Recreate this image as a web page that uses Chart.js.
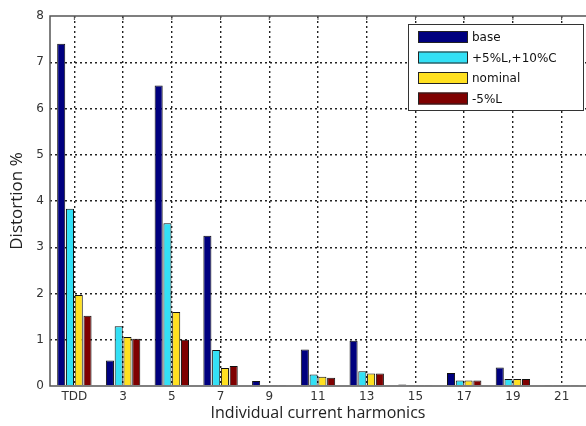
<!DOCTYPE html>
<html>
<head>
<meta charset="utf-8">
<script src="https://cdn.jsdelivr.net/npm/chart.js@4.4.0/dist/chart.umd.min.js"></script>
<style>
html,body{margin:0;padding:0;background:#fff;}
#wrap{width:586px;height:426px;position:relative;}
</style>
</head>
<body>
<div id="wrap"><canvas id="c" width="586" height="426"></canvas></div>
<script>
const categories = ["TDD","3","5","7","9","11","13","15","17","19","21"];
const seriesNames = ["base","+5%L,+10%C","nominal","-5%L"];
const baseVals    = [7.4, 0.55, 6.5, 3.25, 0.11, 0.79, 0.98, 0.03, 0.28, 0.40, 0.02];
const plusVals    = [3.83, 1.29, 3.52, 0.78, 0.02, 0.25, 0.32, 0.02, 0.12, 0.15, 0.02];
const nominalVals = [1.97, 1.06, 1.60, 0.39, 0.02, 0.20, 0.27, 0.02, 0.12, 0.15, 0.02];
const minusVals   = [1.52, 1.02, 1.00, 0.43, 0.02, 0.18, 0.27, 0.02, 0.12, 0.15, 0.02];
const yTicks = [0,1,2,3,4,5,6,7,8];
const colors = ["#00007f","#33e0f5","#ffe020","#7f0000"];

const frame = {
  id:'frame',
  afterDraw(chart){
    const {ctx, chartArea:a} = chart;
    ctx.save();
    ctx.strokeStyle = '#555';
    ctx.lineWidth = 1.5;
    ctx.beginPath();
    ctx.moveTo(a.right+2, a.top); ctx.lineTo(a.left, a.top);
    ctx.lineTo(a.left, a.bottom); ctx.lineTo(a.right+2, a.bottom);
    ctx.stroke();
    // small inward tick marks on top edge
    const xs = chart.scales.x;
    ctx.lineWidth = 1;
    ctx.beginPath();
    xs.ticks.forEach((t,i)=>{ const x = xs.getPixelForTick(i); ctx.moveTo(x,a.top); ctx.lineTo(x,a.top+4); });
    ctx.stroke();
    // legend
    const lx=408, ly=24, lw=175, lh=86;
    ctx.fillStyle='#fff';
    ctx.fillRect(lx,ly,lw,lh);
    ctx.strokeStyle='#333'; ctx.lineWidth=1;
    ctx.strokeRect(lx+0.5,ly+0.5,lw,lh);
    ctx.font = '12px "DejaVu Sans", Arial, sans-serif';
    ctx.textBaseline='middle';
    chart.data.datasets.forEach((ds,i)=>{
      const y = ly+13+i*20.5;
      ctx.fillStyle = ds.backgroundColor;
      ctx.fillRect(lx+10, y-6, 50, 12);
      ctx.strokeStyle='#222';
      ctx.strokeRect(lx+10.5, y-5.5, 49, 11);
      ctx.fillStyle='#111';
      ctx.fillText(ds.label, lx+64, y+1);
    });
    ctx.restore();
  }
};

new Chart(document.getElementById('c'), {
  type:'bar',
  data:{
    labels: categories,
    datasets: [baseVals,plusVals,nominalVals,minusVals].map((v,i)=>({
      label: seriesNames[i],
      data: v,
      backgroundColor: colors[i],
      borderColor: '#111',
      borderWidth: 1,
      categoryPercentage: 0.72,
      barPercentage: 0.92
    }))
  },
  options:{
    responsive:false,
    animation:false,
    layout:{padding:{left:0,top:16,right:0,bottom:0}},
    plugins:{legend:{display:false},tooltip:{enabled:false}},
    scales:{
      x:{
        grid:{offset:false, color:'#222', lineWidth:1.4, drawTicks:false},
        border:{display:false, dash:[2,3]},
        ticks:{color:'#333', font:{size:12, family:'"DejaVu Sans", Arial, sans-serif'}, padding:4, maxRotation:0, autoSkip:false},
        title:{display:true, text:'Individual current harmonics', color:'#222', font:{size:16, family:'"Open Sans", sans-serif'}, padding:{top:0,bottom:3}},
        afterFit(s){ s.height = 40; }
      },
      y:{
        min:0, max:8,
        afterBuildTicks(s){ s.ticks = yTicks.map(v=>({value:v})); },
        grid:{color:(c)=> (c.tick && (c.tick.value===0||c.tick.value===8)) ? 'rgba(0,0,0,0)' : '#222', lineWidth:1.4, drawTicks:false},
        border:{display:false, dash:[2,3]},
        ticks:{color:'#333', font:{size:12, family:'"DejaVu Sans", Arial, sans-serif'}, padding:6},
        title:{display:true, text:'Distortion %', color:'#222', font:{size:17, family:'"Open Sans", sans-serif'}, padding:{top:7,bottom:4}},
        afterFit(s){ s.width = 50; }
      }
    }
  },
  plugins:[frame]
});
</script>
</body>
</html>
